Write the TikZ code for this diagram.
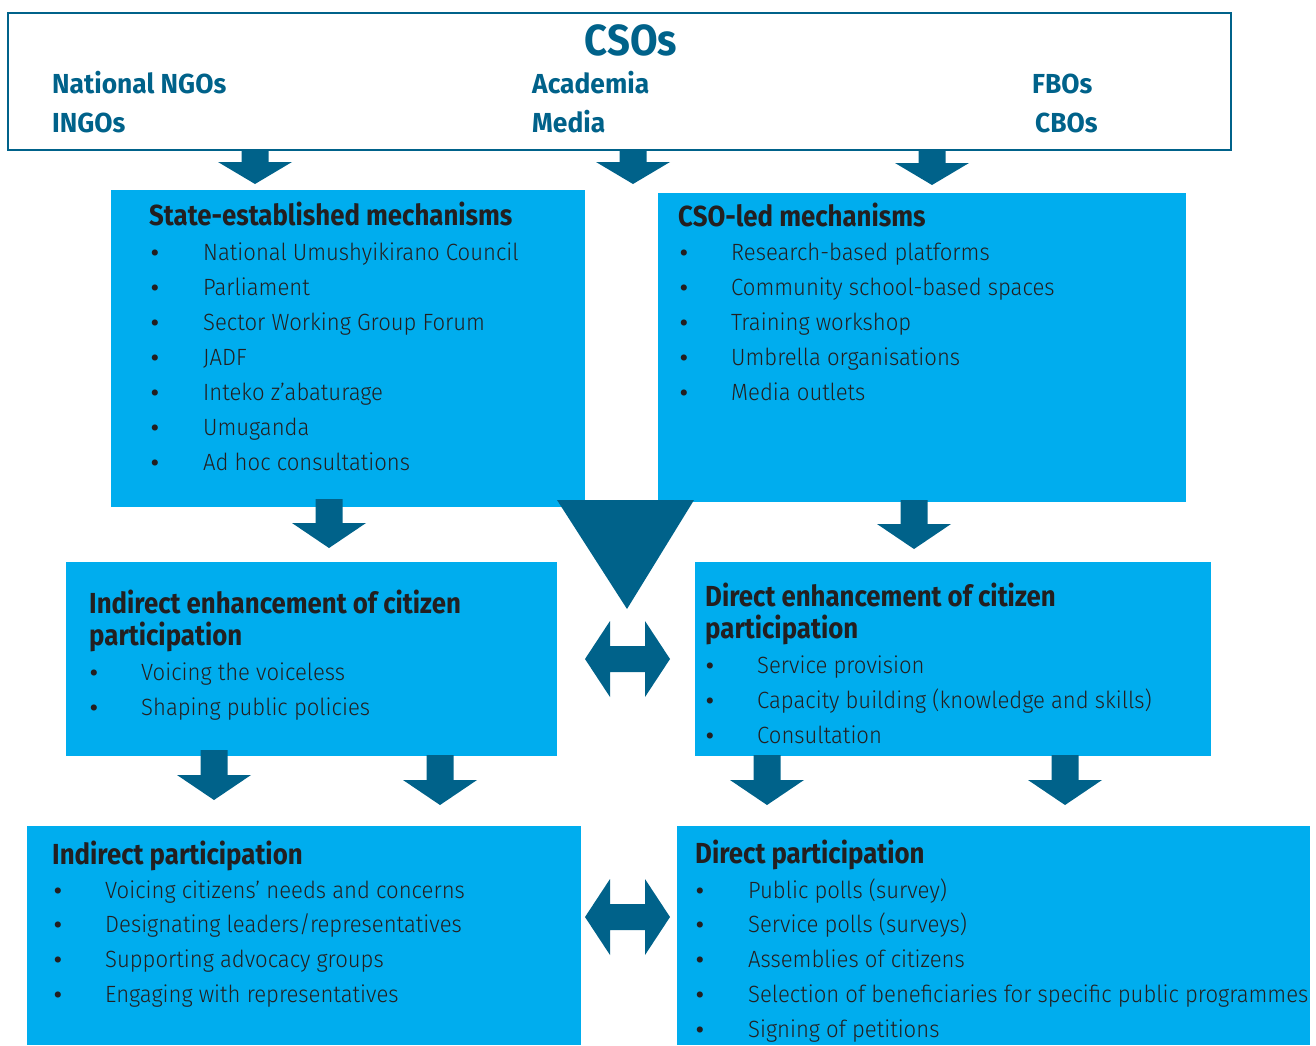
\documentclass[tikz,border=0pt]{standalone}
\usepackage{fontspec}
\setmainfont{Fira Sans}[UprightFont=* Light, BoldFont=* Bold, FakeStretch=0.94]
\newfontfamily\hfont{Fira Sans}[UprightFont=* Bold, FakeStretch=0.89]
\newfontfamily\cfont{Fira Sans}[UprightFont=* Bold, FakeStretch=0.96]
\newfontfamily\tfont{Fira Sans}[UprightFont=* Bold, FakeStretch=0.92]
\newfontfamily\bfont{Fira Sans}[UprightFont=* Bold]
\definecolor{boxc}{HTML}{00ADEE}
\definecolor{darkc}{HTML}{00628A}
\definecolor{txtc}{HTML}{231F20}
\newcommand\dnarrow[4]{% cx, top, base, tip
  \fill[darkc] (#1-13.5,#2) -- (#1+13.5,#2) -- (#1+13.5,#3) -- (#1+37,#3) -- (#1,#4) -- (#1-37,#3) -- (#1-13.5,#3) -- cycle;}
\newcommand\dblarrow[1]{% cy
  \fill[darkc] (585,#1) -- (610,#1-38) -- (610,#1-13) -- (645,#1-13) -- (645,#1-38) -- (670,#1) -- (645,#1+38) -- (645,#1+13) -- (610,#1+13) -- (610,#1+38) -- cycle;}
\begin{document}
\begin{tikzpicture}[x=1pt,y=-1pt,
  bluebox/.style={fill=boxc},
  head/.style={anchor=base west,inner sep=0pt,font=\fontsize{29}{33}\hfont,text=txtc},
  item/.style={anchor=base west,inner sep=0pt,font=\fontsize{23.5}{28}\selectfont,text=txtc},
  bul/.style={anchor=base,inner sep=0pt,font=\fontsize{22}{26}\bfont,text=txtc},
  csotext/.style={anchor=base west,inner sep=0pt,font=\fontsize{27.5}{31}\cfont,text=darkc}]
\useasboundingbox (0,0) rectangle (1316,1045);
% top box
\draw[darkc,line width=2.5pt,fill=white] (8,13) rectangle (1231,150);
\node[anchor=base,inner sep=0pt,font=\fontsize{43.5}{47}\tfont,text=darkc] (csos) at (631,55) {CSOs};
\node[csotext] (ngo) at (52,93) {National NGOs};
\node[csotext] (ingo) at (52,132) {INGOs};
\node[csotext] (acad) at (532,93) {Academia};
\node[csotext] (media) at (532,132) {Media};
\node[csotext] (fbo) at (1032,93) {FBOs};
\node[csotext] (cbo) at (1035,132) {CBOs};
% arrows top
\dnarrow{255}{150}{162}{184}
\dnarrow{633}{150}{162}{184}
\dnarrow{932}{150}{163}{185}
% state box
\fill[bluebox] (111,190) rectangle (585,507);
\node[head] (sh) at (149,225) {State-established mechanisms};
\foreach \t [count=\i from 0] in {National Umushyikirano Council,Parliament,Sector Working Group Forum,JADF,Inteko z’abaturage,Umuganda,Ad hoc consultations}{
  \node[bul] (sb\i) at (155,260+35*\i) {•};
  \node[item] (si\i) at (203,260+35*\i) {\t};
}
% cso-led box
\fill[bluebox] (658,193) rectangle (1186,502);
\node[head] (ch) at (678,226) {CSO-led mechanisms};
\foreach \t [count=\i from 0] in {Research-based platforms,Community school-based spaces,Training workshop,Umbrella organisations,Media outlets}{
  \node[bul] (cb\i) at (684,260+35*\i) {•};
  \node[item] (ci\i) at (731,260+35*\i) {\t};
}
% middle arrows
\dnarrow{329}{499}{523}{548}
\dnarrow{914}{500}{524}{549}
\fill[darkc] (557,500) -- (694,500) -- (627,609) -- cycle;
% indirect enhancement
\fill[bluebox] (66,562) rectangle (557,756);
\node[head] (ih1) at (89,613) {Indirect enhancement of citizen};
\node[head] (ih2) at (89,645) {participation};
\foreach \t [count=\i from 0] in {Voicing the voiceless,Shaping public policies}{
  \node[bul] (ib\i) at (94,680+35*\i) {•};
  \node[item] (ii\i) at (141,680+35*\i) {\t};
}
% direct enhancement
\fill[bluebox] (695,562) rectangle (1211,756);
\node[head] (dh1) at (705,606) {Direct enhancement of citizen};
\node[head] (dh2) at (705,638) {participation};
\foreach \t [count=\i from 0] in {Service provision,Capacity building (knowledge and skills),Consultation}{
  \node[bul] (db\i) at (710,673+35*\i) {•};
  \node[item] (di\i) at (757,673+35*\i) {\t};
}
\dblarrow{659}
% lower arrows
\dnarrow{214}{750}{775}{800}
\dnarrow{440}{755}{780}{805}
\dnarrow{767}{755}{780}{805}
\dnarrow{1065}{755}{780}{805}
% indirect participation
\fill[bluebox] (27,826) rectangle (581,1045);
\node[head] (ph) at (52,864) {Indirect participation};
\foreach \t [count=\i from 0] in {Voicing citizens’ needs and concerns,Designating leaders/representatives,Supporting advocacy groups,Engaging with representatives}{
  \node[bul] (pb\i) at (58,898+34.75*\i) {•};
  \node[item] (pi\i) at (105,898+34.75*\i) {\t};
}
% direct participation
\fill[bluebox] (677,826) rectangle (1310,1045);
\node[head] (qh) at (695,863) {Direct participation};
\foreach \t [count=\i from 0] in {Public polls (survey),Service polls (surveys),Assemblies of citizens,Selection of beneficiaries for specific public programmes,Signing of petitions}{
  \node[bul] (qb\i) at (700,898+34.75*\i) {•};
  \node[item] (qi\i) at (748,898+34.75*\i) {\t};
}
\dblarrow{917}
\end{tikzpicture}
\end{document}
